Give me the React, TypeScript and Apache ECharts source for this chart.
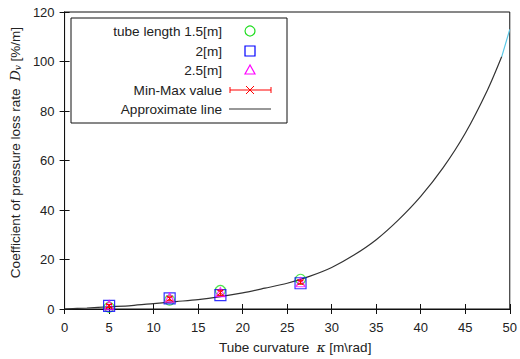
import React, { useEffect, useRef } from "react";
import * as echarts from "echarts";

// Measured curvature positions [m\rad]
const curvatures = [5, 11.8, 17.5, 26.5];
// Coefficient of pressure loss rate per tube length [%/m]
const len15 = [0.7, 3.6, 7.5, 12.0];
const len20 = [1.3, 4.3, 5.6, 10.4];
const len25 = [1.6, 4.6, 6.8, 10.8];
// Min-Max summary
const meanVals = [1.2, 4.2, 6.6, 10.8];
const minVals = [0.6, 3.5, 5.5, 10.1];
const maxVals = [1.8, 4.9, 7.6, 11.6];
// Approximate line
const approxX = [0, 2.5, 5, 7.5, 10, 12.5, 15, 17.5, 20, 22.5, 25, 27.5, 30, 32.5, 35, 37.5, 40, 42.5, 45, 47.5, 49.1];
const approxY = [0, 0.4, 0.9, 1.4, 2.2, 3.0, 3.8, 5.0, 6.5, 8.4, 10.4, 13.2, 16.8, 21.8, 28.0, 36.0, 45.5, 57.0, 71.0, 88.5, 102];
const tailX = [49.1, 50];
const tailY = [102, 113];

const xTicks = { min: 0, max: 50, interval: 5 };
const yTicks = { min: 0, max: 120, interval: 20 };

const FONT = "Liberation Sans, Arial, sans-serif";
const TXT = "#222";

export default function App() {
  const ref = useRef<HTMLDivElement>(null);
  useEffect(() => {
    if (!ref.current) return;
    const chart = echarts.init(ref.current, undefined, { renderer: "svg" });
    const pair = (xs: number[], ys: number[]) => xs.map((x, i) => [x, ys[i]]);
    const axisCommon = {
      axisLine: { show: true, lineStyle: { color: "#111", width: 1 } },
      axisTick: { show: true, inside: true, length: 5, lineStyle: { color: "#111" } },
      splitLine: { show: false },
    };
    const legendX = 250;
    const rows = [31, 51, 70, 90, 109];
    chart.setOption({
      animation: false,
      textStyle: { fontFamily: FONT },
      grid: { left: 64, right: 9, top: 12, bottom: 49, show: true, borderColor: "#111", borderWidth: 1 },
      xAxis: [
        {
          type: "value",
          ...xTicks,
          ...axisCommon,
          axisLabel: { color: TXT, fontSize: 13, margin: 12, fontFamily: FONT },
          name: "{a|Tube curvature  }{i|κ}{a| [m\\rad]}",
          nameLocation: "middle",
          nameGap: 31,
          nameTextStyle: {
            padding: [0, 0, 0, 16],
            rich: {
              a: { fontSize: 13.5, color: TXT, fontFamily: FONT },
              i: { fontSize: 13.5, color: TXT, fontStyle: "italic", fontFamily: "DejaVu Serif, serif" },
            },
          },
        },
        {
          type: "value",
          position: "top",
          ...xTicks,
          ...axisCommon,
          axisLabel: { show: false },
        },
      ],
      yAxis: [
        {
          type: "value",
          ...yTicks,
          ...axisCommon,
          axisLabel: { color: TXT, fontSize: 13, margin: 10, fontFamily: FONT },
          name: "{a|Coefficient of pressure loss rate  }{i|D}{s|v}{a| [%/m]}",
          nameLocation: "middle",
          nameGap: 40,
          nameRotate: 90,
          nameTextStyle: {
            padding: [0, 0, 0, 16],
            rich: {
              a: { fontSize: 13.5, color: TXT, fontFamily: FONT },
              i: { fontSize: 13.5, color: TXT, fontStyle: "italic", fontFamily: "DejaVu Serif, serif" },
              s: { fontSize: 9, color: TXT, fontStyle: "italic", fontFamily: "DejaVu Serif, serif", verticalAlign: "bottom" },
            },
          },
        },
        {
          type: "value",
          position: "right",
          ...yTicks,
          ...axisCommon,
          axisLabel: { show: false },
        },
      ],
      series: [
        {
          name: "Approximate line",
          type: "line",
          data: pair(approxX, approxY),
          smooth: 0.3,
          showSymbol: false,
          lineStyle: { color: "#333", width: 1.2 },
          z: 1,
        },
        {
          type: "line",
          data: pair(tailX, tailY),
          showSymbol: false,
          lineStyle: { color: "#5cc8e6", width: 1.2 },
          z: 1,
        },
        {
          name: "tube length 1.5[m]",
          type: "scatter",
          data: pair(curvatures, len15),
          symbol: "circle",
          symbolSize: 10,
          itemStyle: { color: "rgba(0,0,0,0)", borderColor: "#22dd22", borderWidth: 1.2 },
          z: 2,
        },
        {
          name: "2[m]",
          type: "scatter",
          data: pair(curvatures, len20),
          symbol: "rect",
          symbolSize: 11,
          itemStyle: { color: "rgba(0,0,0,0)", borderColor: "#0000ff", borderWidth: 1.2 },
          z: 3,
        },
        {
          name: "2.5[m]",
          type: "scatter",
          data: pair(curvatures, len25),
          symbol: "triangle",
          symbolSize: 9,
          itemStyle: { color: "rgba(0,0,0,0)", borderColor: "#ff00ff", borderWidth: 1.2 },
          z: 4,
        },
        {
          name: "Min-Max value",
          type: "custom",
          data: curvatures.map((x, i) => [x, meanVals[i], minVals[i], maxVals[i]]),
          z: 5,
          renderItem: (params: any, api: any) => {
            const c = api.coord([api.value(0), api.value(1)]);
            const lo = api.coord([api.value(0), api.value(2)]);
            const hi = api.coord([api.value(0), api.value(3)]);
            const st = { stroke: "#ff0000", lineWidth: 1 };
            const h = 3;
            const s = 3;
            return {
              type: "group",
              children: [
                { type: "line", shape: { x1: c[0], y1: lo[1], x2: c[0], y2: hi[1] }, style: st },
                { type: "line", shape: { x1: c[0] - h, y1: lo[1], x2: c[0] + h, y2: lo[1] }, style: st },
                { type: "line", shape: { x1: c[0] - h, y1: hi[1], x2: c[0] + h, y2: hi[1] }, style: st },
                { type: "line", shape: { x1: c[0] - s, y1: c[1] - s, x2: c[0] + s, y2: c[1] + s }, style: st },
                { type: "line", shape: { x1: c[0] - s, y1: c[1] + s, x2: c[0] + s, y2: c[1] - s }, style: st },
              ],
            };
          },
        },
      ],
      graphic: [
        {
          type: "rect",
          shape: { x: 71, y: 18, width: 216, height: 105 },
          style: { fill: "#fff", stroke: "#111", lineWidth: 1 },
          z: 10,
        },
        ...["tube length 1.5[m]", "2[m]", "2.5[m]", "Min-Max value", "Approximate line"].map((t, i) => ({
          type: "text",
          x: 222,
          y: rows[i],
          z: 11,
          style: { text: t, fill: TXT, font: `13.6px ${FONT}`, textAlign: "right", textVerticalAlign: "middle" },
        })),
        { type: "circle", shape: { cx: legendX, cy: rows[0], r: 5 }, style: { fill: "none", stroke: "#22dd22", lineWidth: 1.2 }, z: 11 },
        { type: "rect", shape: { x: legendX - 5, y: rows[1] - 5, width: 10, height: 10 }, style: { fill: "none", stroke: "#0000ff", lineWidth: 1.2 }, z: 11 },
        {
          type: "polygon",
          shape: { points: [[legendX, rows[2] - 5], [legendX - 5, rows[2] + 4], [legendX + 5, rows[2] + 4]] },
          style: { fill: "none", stroke: "#ff00ff", lineWidth: 1.2 },
          z: 11,
        },
        { type: "line", shape: { x1: 230, y1: rows[3], x2: 271, y2: rows[3] }, style: { stroke: "#ff0000", lineWidth: 1 }, z: 11 },
        { type: "line", shape: { x1: 230, y1: rows[3] - 3, x2: 230, y2: rows[3] + 3 }, style: { stroke: "#ff0000", lineWidth: 1 }, z: 11 },
        { type: "line", shape: { x1: 271, y1: rows[3] - 3, x2: 271, y2: rows[3] + 3 }, style: { stroke: "#ff0000", lineWidth: 1 }, z: 11 },
        { type: "line", shape: { x1: legendX - 4, y1: rows[3] - 4, x2: legendX + 4, y2: rows[3] + 4 }, style: { stroke: "#ff0000", lineWidth: 1 }, z: 11 },
        { type: "line", shape: { x1: legendX - 4, y1: rows[3] + 4, x2: legendX + 4, y2: rows[3] - 4 }, style: { stroke: "#ff0000", lineWidth: 1 }, z: 11 },
        { type: "line", shape: { x1: 229, y1: rows[4], x2: 271, y2: rows[4] }, style: { stroke: "#333", lineWidth: 1.2 }, z: 11 },
      ],
    });
    return () => chart.dispose();
  }, []);
  return <div ref={ref} style={{ position: "absolute", left: 0, top: 0, width: 520, height: 359 }} />;
}
